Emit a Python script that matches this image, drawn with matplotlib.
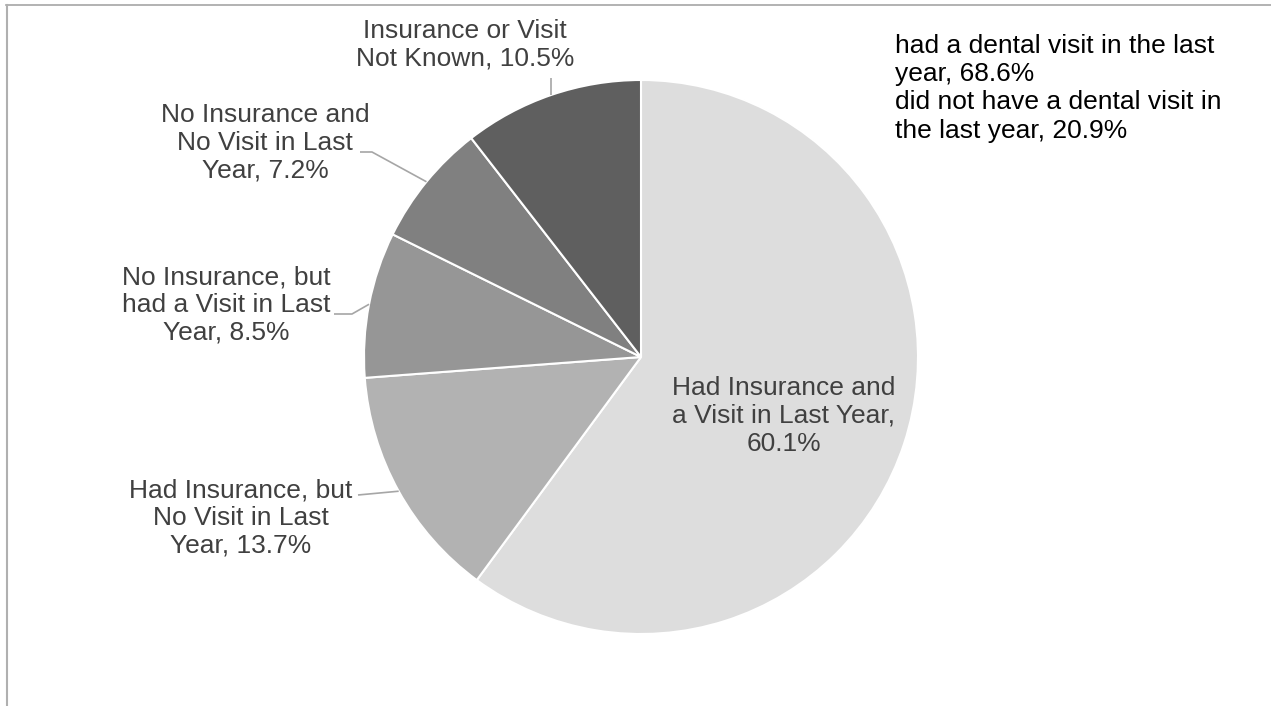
import numpy as np
import matplotlib
matplotlib.use("Agg")
import matplotlib.pyplot as plt
from matplotlib.lines import Line2D

plt.rcParams['font.family'] = ['Liberation Sans', 'DejaVu Sans']

# Dental insurance / visit status shares (percent)
categories = [
    "Had Insurance and\na Visit in Last Year,\n",
    "Had Insurance, but\nNo Visit in Last\nYear, ",
    "No Insurance, but\nhad a Visit in Last\nYear, ",
    "No Insurance and\nNo Visit in Last\nYear, ",
    "Insurance or Visit\nNot Known, ",
]
values = [60.1, 13.7, 8.5, 7.2, 10.5]
colors = ["#dddddd", "#b2b2b2", "#969696", "#808080", "#5f5f5f"]

summary_labels = [
    "had a dental visit in the last\nyear, 68.6%",
    "did not have a dental visit in\nthe last year, 20.9%",
]

W, H = 1271, 706
fig = plt.figure(figsize=(W / 100, H / 100), dpi=100)
ax = fig.add_axes([0, 0, 1, 1])

cx, cy, r = 641, H - 357, 277
wedges, _ = ax.pie(values, colors=colors, startangle=90, counterclock=False,
                   center=(cx, cy), radius=r,
                   wedgeprops=dict(edgecolor="white", linewidth=1.5))
ax.set_xlim(0, W)
ax.set_ylim(0, H)
ax.set_aspect("equal")
ax.axis("off")

label_color = "#404040"
lead_color = "#a6a6a6"
fs = 19

# text centre (x, y from top) and leader elbow points for each slice
text_pos = [(784, 416), (241, 518), (226, 305), (265, 143), (465, 45)]
elbows = [
    None,
    [(358, 495)],
    [(352, 314), (334, 314)],
    [(372, 152), (360, 152)],
    "up",
]

for w, cat, v, (tx, ty), elb in zip(wedges, categories, values, text_pos, elbows):
    ax.text(tx, H - ty, f"{cat}{v}%", ha="center", va="center",
            fontsize=fs, color=label_color, linespacing=1.2)
    if elb is None:
        continue
    mid = np.deg2rad((w.theta1 + w.theta2) / 2)
    ex, ey = cx + r * np.cos(mid), cy + r * np.sin(mid)
    if elb == "up":
        pts = [(ex, ey), (ex, H - 78)]
    else:
        pts = [(ex, ey)] + [(px, H - py) for px, py in elb]
    xs, ys = zip(*pts)
    ax.plot(xs, ys, color=lead_color, lw=1.2, solid_capstyle="butt")

# summary legend text block
ax.text(895, H - 34, "\n".join(summary_labels), ha="left", va="top",
        fontsize=fs, color="black", linespacing=1.22)

# chart frame (top and left edges)
fig.add_artist(Line2D([6 / W, 1], [1 - 5 / H, 1 - 5 / H], transform=fig.transFigure,
                      color="#a6a6a6", lw=1.2))
fig.add_artist(Line2D([6.5 / W, 6.5 / W], [0, 1 - 5 / H], transform=fig.transFigure,
                      color="#b0b0b0", lw=1.5))

fig.savefig("out.png", dpi=100, facecolor="white")
